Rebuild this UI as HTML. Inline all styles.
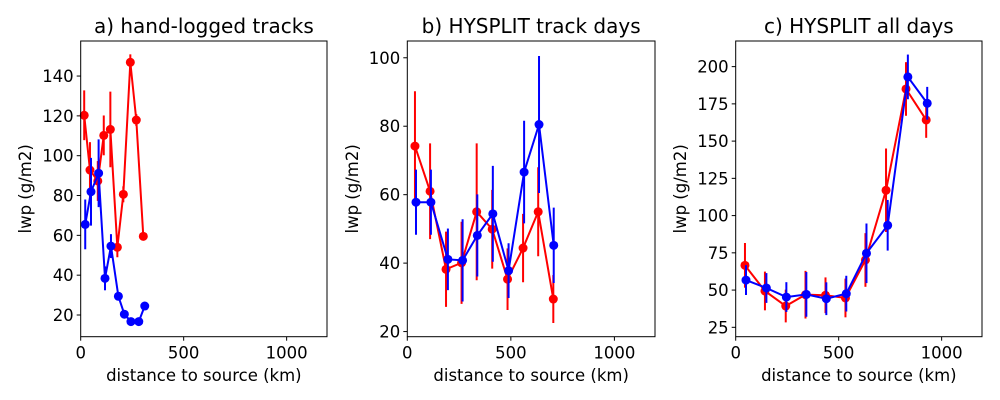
<!DOCTYPE html>
<html><head><meta charset="utf-8"><style>
body{margin:0;background:#fff;}
svg{display:block;font-family:"DejaVu Sans","Liberation Sans",sans-serif;}
</style></head><body>
<svg id="chart" width="1000" height="400" viewBox="0 0 1000 400"></svg>
<script>
const titles=["a) hand-logged tracks","b) HYSPLIT track days","c) HYSPLIT all days"];
const aRedX=[17,45,83,112,144,178,207,241,270,304];
const aRedY=[120.3,92.8,87.3,110.2,113.2,54,80.6,146.9,117.9,59.5];
const aRedE=[12.5,14,10,10,19,5,4,4,3,1];
const aBlueX=[22,50,87,118,147,183,212,244,282,311];
const aBlueY=[65.5,81.9,91.2,38.4,54.6,29.4,20.4,16.7,16.7,24.5];
const aBlueE=[12.5,17,17,6,6,1,1,1,1,1];
const bRedX=[37,110,187,262,335,410,484,559,632,705];
const bRedY=[74.2,61,38.2,40.1,55,49.9,35.3,44.4,55,29.5];
const bRedE=[16,14,11,12,20,11.5,9,10,13,7];
const bBlueX=[42,114,196,267,338,413,489,564,636,707];
const bBlueY=[57.8,57.8,41.1,40.8,48.1,54.4,37.8,66.6,80.5,45.2];
const bBlueE=[9.5,9.5,9,12,12,14,8,15,20,11];
const cRedX=[45,142,243,339,436,533,630,730,827,925];
const cRedY=[66.6,49.4,39.3,46.9,46.5,44.7,70.2,117,185,164.2];
const cRedE=[15,13,11,16,12,13,18,28,18,12];
const cBlueX=[50,149,246,343,440,537,635,738,836,930];
const cBlueY=[56.7,51.4,45.3,47.1,44.2,47.6,74.7,93.5,193.1,175.4];
const cBlueE=[10,10,10,15,11,12,20,17,15,11];
const yTicksA=[20,40,60,80,100,120,140];
const yTicksB=[20,40,60,80,100];
const yTicksC=[25,50,75,100,125,150,175,200];
const xTicks=[0,500,1000];

const panels=[
 {l:80.7,r:327,ylo:9.1,yhi:157.6,yt:yTicksA,red:[aRedX,aRedY,aRedE],blue:[aBlueX,aBlueY,aBlueE],ylx:25,key:"a"},
 {l:407.3,r:655,ylo:18.5,yhi:104.9,yt:yTicksB,red:[bRedX,bRedY,bRedE],blue:[bBlueX,bBlueY,bBlueE],ylx:352,key:"b"},
 {l:735.7,r:982,ylo:18.7,yhi:217.2,yt:yTicksC,red:[cRedX,cRedY,cRedE],blue:[cBlueX,cBlueY,cBlueE],ylx:680,key:"c"}
];
const T=41,B=336.7,NS="http://www.w3.org/2000/svg";
const svg=document.getElementById('chart');
function mk(tag,attrs,parent,text){const e=document.createElementNS(NS,tag);for(const k in attrs)e.setAttribute(k,attrs[k]);if(text!==undefined)e.textContent=text;(parent||svg).appendChild(e);return e;}
panels.forEach((p,i)=>{
 const g=mk('g',{});
 
 
 const sx=v=>p.l+(v/1196)*(p.r-p.l);
 const sy=v=>B-(v-p.ylo)/(p.yhi-p.ylo)*(B-T);
 const t=mk('text',{x:(p.l+p.r)/2,y:33,'text-anchor':'middle','font-size':'20',fill:'#000'},g,titles[i]);
 
 
 xTicks.forEach(v=>{const x=sx(v);mk('line',{x1:x,x2:x,y1:B,y2:B+4,stroke:'#000','stroke-width':1},g);
  const tl=mk('text',{x:x,y:B+22,'text-anchor':'middle','font-size':'16.5',fill:'#000'},g,String(v));
  
  });
 p.yt.forEach(v=>{const y=sy(v);mk('line',{x1:p.l-4,x2:p.l,y1:y,y2:y,stroke:'#000','stroke-width':1},g);
  const tl=mk('text',{x:p.l-7,y:y+6,'text-anchor':'end','font-size':'16.5',fill:'#000'},g,String(v));
  
  });
 const xl=mk('text',{x:(p.l+p.r)/2,y:381,'text-anchor':'middle','font-size':'16.5',fill:'#000'},g,'distance to source (km)');
 
 
 const yl=mk('text',{x:0,y:0,'text-anchor':'middle','font-size':'16.5',fill:'#000',transform:`translate(${p.ylx+6},${(T+B)/2}) rotate(-90)`},g,'lwp (g/m2)');
 
 
 [['red',p.red],['blue',p.blue]].forEach(([c,d])=>{
  const [xs,ys,es]=d;
  const sg=mk('g',{},g);
  
  
  xs.forEach((x,k)=>{mk('line',{x1:sx(x),x2:sx(x),y1:sy(ys[k]-es[k]),y2:sy(ys[k]+es[k]),stroke:c,'stroke-width':2},sg);});
  mk('polyline',{points:xs.map((x,k)=>sx(x)+','+sy(ys[k])).join(' '),fill:'none',stroke:c,'stroke-width':2},sg);
  xs.forEach((x,k)=>{const m=mk('circle',{cx:sx(x),cy:sy(ys[k]),r:4.5,fill:c},sg);
   
   });
 });
 mk('rect',{x:p.l,y:T,width:p.r-p.l,height:B-T,fill:'none',stroke:'#000','stroke-width':1},g);
});
</script>
</body></html>
